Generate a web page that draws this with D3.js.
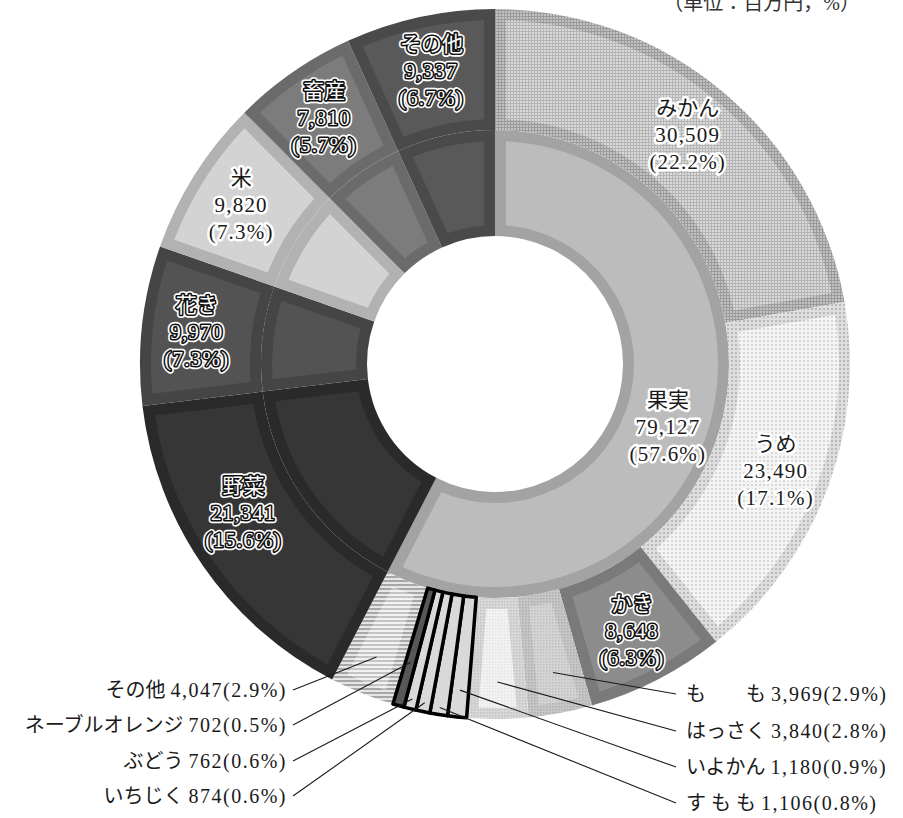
<!DOCTYPE html>
<html><head><meta charset="utf-8">
<script src="https://cdn.jsdelivr.net/npm/d3@7"></script>
<style>body{margin:0;background:#fff;overflow:hidden}</style>
</head><body>
<svg id="chart" width="903" height="818"></svg>
<script>
// ---- data ----
const categories = ["果実", "野菜", "花き", "米", "畜産", "その他"];
const categoryValues = [79127, 21341, 9970, 9820, 7810, 9337];
const categoryPct = ["57.6%", "15.6%", "7.3%", "7.3%", "5.7%", "6.7%"];

const fruits = ["みかん", "うめ", "かき", "もも", "はっさく", "いよかん", "すもも", "いちじく", "ぶどう", "ネーブルオレンジ", "その他"];
const fruitValues = [30509, 23490, 8648, 3969, 3840, 1180, 1106, 874, 762, 702, 4047];
const fruitPct = ["22.2%", "17.1%", "6.3%", "2.9%", "2.8%", "0.9%", "0.8%", "0.6%", "0.6%", "0.5%", "2.9%"];
const fruitCalloutNames = ["", "", "", "も　　も", "はっさく", "いよかん", "す も も", "いちじく", "ぶどう", "ネーブルオレンジ", "その他"];

const unitLabel = "（単位：百万円，%）";

// ---- layout / style ----
const cx = 495, cy = 364, r0 = 128, r1 = 234, r2 = 355, bw = 11;
const fmt = d3.format(",");
const FONT = "'Liberation Serif','Noto Sans CJK JP',serif";

const svg = d3.select("#chart");
const defs = svg.append("defs");

function dotPattern(id, bg, fg, size, dot) {
  const p = defs.append("pattern").attr("id", id).attr("patternUnits", "userSpaceOnUse")
    .attr("width", size).attr("height", size);
  p.append("rect").attr("width", size).attr("height", size).attr("fill", bg);
  p.append("rect").attr("width", dot).attr("height", dot).attr("fill", fg);
}
function gridPattern(id, bg, fg, size) {
  const p = defs.append("pattern").attr("id", id).attr("patternUnits", "userSpaceOnUse")
    .attr("width", size).attr("height", size);
  p.append("rect").attr("width", size).attr("height", size).attr("fill", bg);
  p.append("path").attr("d", `M0 0.5H${size}M0.5 0V${size}`).attr("stroke", fg).attr("stroke-width", 1);
}
function stripePattern(id, bg, fg, size, th) {
  const p = defs.append("pattern").attr("id", id).attr("patternUnits", "userSpaceOnUse")
    .attr("width", 8).attr("height", size);
  p.append("rect").attr("width", 8).attr("height", size).attr("fill", bg);
  p.append("rect").attr("width", 8).attr("height", th).attr("fill", fg);
}
gridPattern("mikanB", "#c2c2c2", "#9a9a9a", 3);
gridPattern("mikanF", "#dadada", "#b4b4b4", 3);
dotPattern("umeB", "#dedede", "#b8b8b8", 4, 2);
dotPattern("umeF", "#f4f4f4", "#d6d6d6", 4, 2);
dotPattern("momoB", "#c6c6c6", "#afafaf", 3, 1.5);
dotPattern("momoF", "#d4d4d4", "#c0c0c0", 3, 1.5);
dotPattern("hassakuB", "#d8d8d8", "#c2c2c2", 3, 1.5);
dotPattern("hassakuF", "#f2f2f2", "#e4e4e4", 3, 1.5);
stripePattern("stripeB", "#e6e6e6", "#a6a6a6", 4, 2);
stripePattern("stripeF", "#f2f2f2", "#c4c4c4", 4, 2);

const catStyle = {
  "果実": {b: "#a3a3a3", f: "#bcbcbc", label: "halo"},
  "野菜": {b: "#2a2a2a", f: "#363636", label: "outline"},
  "花き": {b: "#454545", f: "#535353", label: "outline"},
  "米":   {b: "#b2b2b2", f: "#d3d3d3", label: "halo"},
  "畜産": {b: "#6b6b6b", f: "#7c7c7c", label: "outline"},
  "その他": {b: "#4a4a4a", f: "#595959", label: "outline"}
};
const fruitStyle = [
  {b: "url(#mikanB)", f: "url(#mikanF)", label: "halo"},
  {b: "url(#umeB)", f: "url(#umeF)", label: "halo"},
  {b: "#7a7a7a", f: "#8c8c8c", label: "outline"},
  {b: "url(#momoB)", f: "url(#momoF)"},
  {b: "url(#hassakuB)", f: "url(#hassakuF)"},
  {box: "#d9d9d9"}, {box: "#d9d9d9"}, {box: "#d9d9d9"}, {box: "#d9d9d9"},
  {box: "#575757"},
  {b: "url(#stripeB)", f: "url(#stripeF)"}
];

// label anchors (layout): radius and pixel offsets
const catLabelPos = {"果実": {r: 180, dx: -2, dy: 20}, "野菜": {r: 300, dx: -5, dy: -22}};
const defaultLabelPos = {r: 300, dx: 0, dy: 0};

const g = svg.append("g").attr("transform", `translate(${cx},${cy})`);
const pie = d3.pie().sort(null).value(d => d.value);

const innerData = categories.map((n, i) => ({name: n, value: categoryValues[i], pct: categoryPct[i], style: catStyle[n], cat: true}));
const outerData = fruits.map((n, i) => ({name: n, value: fruitValues[i], pct: fruitPct[i], style: fruitStyle[i], idx: i}))
  .concat(innerData.slice(1).map(d => ({...d, outerCopy: true})));

const innerArcs = pie(innerData);
const outerArcs = pie(outerData);

function drawRing(arcs, ri, ro) {
  const base = d3.arc().innerRadius(ri).outerRadius(ro);
  const inset = d3.arc().innerRadius(ri + bw).outerRadius(ro - bw).padRadius(100).padAngle(2 * bw / 100);
  const seg = g.append("g").selectAll("g").data(arcs).join("g");
  seg.filter(d => !d.data.style.box).append("path").attr("d", base).attr("fill", d => d.data.style.b);
  seg.filter(d => !d.data.style.box).append("path").attr("d", inset).attr("fill", d => d.data.style.f);
  return base;
}
drawRing(innerArcs, r0, r1);
const outerBase = drawRing(outerArcs, r1, r2);
// boxed small fruit slices
g.append("g").selectAll("path").data(outerArcs.filter(d => d.data.style.box)).join("path")
  .attr("d", outerBase).attr("fill", d => d.data.style.box)
  .attr("stroke", "#000").attr("stroke-width", 3.5).attr("stroke-linejoin", "round");

// ---- in-chart labels ----
const mid = d => (d.startAngle + d.endAngle) / 2;
const labelItems = innerArcs.map(d => ({d, pos: catLabelPos[d.data.name] || defaultLabelPos}))
  .concat(outerArcs.filter(d => d.data.style.label && !d.data.cat).map(d => ({d, pos: defaultLabelPos})));

labelItems.forEach(({d, pos}) => {
  const [x, y] = d3.pointRadial(mid(d), pos.r);
  const lines = [d.data.name, fmt(d.data.value), "(" + d.data.pct + ")"];
  const grp = g.append("g").attr("transform", `translate(${x + pos.dx},${y + pos.dy})`)
    .attr("font-family", FONT).attr("font-size", 21).attr("text-anchor", "middle");
  const kind = d.data.style.label;
  const mk = () => {
    const t = grp.append("text").attr("y", 0);
    lines.forEach((s, i) => t.append("tspan").attr("x", 0).attr("y", (i - 1) * 27).attr("dy", "0.36em")
      .attr("letter-spacing", i === 0 ? 0 : 1.2).text(s));
    return t;
  };
  if (kind === "outline") {
    mk().attr("fill", "none").attr("stroke", "#fff").attr("stroke-width", 6.5).attr("stroke-linejoin", "round");
    mk().attr("fill", "none").attr("stroke", "#111").attr("stroke-width", 3.2).attr("stroke-linejoin", "round");
    mk().attr("fill", "#fff");
  } else {
    mk().attr("fill", "none").attr("stroke", "#fff").attr("stroke-width", 5).attr("stroke-linejoin", "round");
    mk().attr("fill", "#1a1a1a");
  }
});

// ---- callouts ----
const callouts = [
  {i: 10, side: "L", y: 690, r: 316},
  {i: 9, side: "L", y: 725, r: 310},
  {i: 8, side: "L", y: 761, r: 345},
  {i: 7, side: "L", y: 796, r: 346},
  {i: 3, side: "R", y: 694, r: 314},
  {i: 4, side: "R", y: 731, r: 318},
  {i: 5, side: "R", y: 767, r: 328},
  {i: 6, side: "R", y: 803, r: 348}
];
const cg = svg.append("g");
callouts.forEach(c => {
  const a = outerArcs[c.i];
  const [px, py] = d3.pointRadial(mid(a), c.r);
  const lx = c.side === "L" ? 293 : 676;
  cg.append("line").attr("x1", lx).attr("y1", c.y).attr("x2", cx + px).attr("y2", cy + py)
    .attr("stroke", "#1a1a1a").attr("stroke-width", 1.1);
  const t = cg.append("text").attr("x", c.side === "L" ? 287 : 686).attr("y", c.y).attr("dy", "0.34em")
    .attr("text-anchor", c.side === "L" ? "end" : "start")
    .attr("font-family", FONT).attr("font-size", 20).attr("fill", "#1a1a1a");
  t.append("tspan").text(fruitCalloutNames[c.i] + " ");
  t.append("tspan").attr("letter-spacing", 1.5).text(fmt(fruitValues[c.i]) + "(" + fruitPct[c.i] + ")");
});

// ---- unit label (cropped at top, as in the reference) ----
svg.append("text").attr("x", 860).attr("y", 10).attr("text-anchor", "end")
  .attr("font-family", FONT).attr("font-size", 20).attr("fill", "#333").text(unitLabel);
</script>
</body></html>
